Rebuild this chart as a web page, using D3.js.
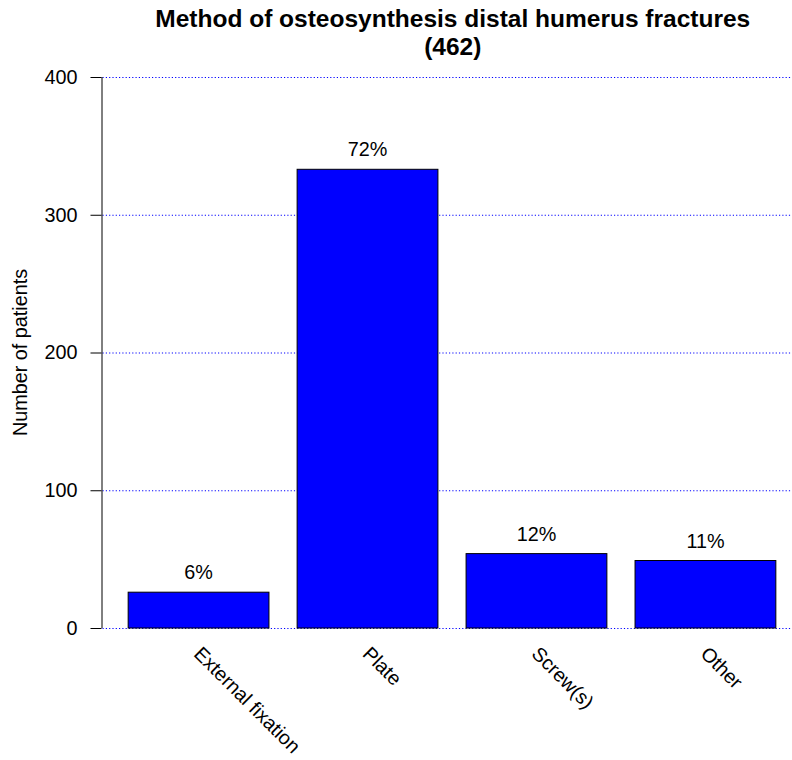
<!DOCTYPE html>
<html>
<head>
<meta charset="utf-8">
<script src="https://cdn.jsdelivr.net/npm/d3@7"></script>
<style>
  body { margin: 0; background: #fff; }
  svg { display: block; }
  text { font-family: "Liberation Sans", Arial, Helvetica, sans-serif; fill: #000; }
</style>
</head>
<body>
<svg id="chart" width="792" height="760"></svg>
<script>
const categories = ["External fixation", "Plate", "Screw(s)", "Other"];
const patients = [26, 333, 54, 49];
const percentLabels = ["6%", "72%", "12%", "11%"];
const yTicks = [0, 100, 200, 300, 400];
const titleLines = ["Method of osteosynthesis distal humerus fractures", "(462)"];
const yLabel = "Number of patients";

const svg = d3.select("#chart");
const W = 792, H = 760;
const plotLeft = 101.5, plotRight = 804;
const fs = "19.8px";

const y = d3.scaleLinear().domain([0, 400]).range([628, 77]);
const x = d3.scaleBand().domain(categories).range([100, 804])
  .paddingInner(1 / 6).paddingOuter(1 / 6);

// gridlines
svg.append("g").selectAll("line").data(yTicks).join("line")
  .attr("x1", plotLeft + 1).attr("x2", W)
  .attr("y1", d => y(d) + 0.5).attr("y2", d => y(d) + 0.5)
  .attr("stroke", "#0000ff").attr("stroke-width", 1)
  .attr("stroke-dasharray", "1.2,2.1");

// bars
svg.append("g").selectAll("rect").data(patients).join("rect")
  .attr("x", (d, i) => x(categories[i]))
  .attr("y", d => y(d))
  .attr("width", x.bandwidth())
  .attr("height", d => y(0) - y(d))
  .attr("fill", "#0000ff")
  .attr("stroke", "#000").attr("stroke-width", 1);

// percent labels
svg.append("g").selectAll("text").data(patients).join("text")
  .attr("x", (d, i) => x(categories[i]) + x.bandwidth() / 2)
  .attr("y", d => y(d) - 13)
  .attr("text-anchor", "middle")
  .style("font-size", fs)
  .text((d, i) => percentLabels[i]);

// y axis
const yAxis = d3.axisLeft(y).tickValues(yTicks).tickSize(11).tickPadding(13);
const gy = svg.append("g").attr("transform", `translate(${plotLeft},0)`).call(yAxis);
gy.select(".domain").attr("d", `M0.5,${y(0)}V${y(400)}`).attr("stroke", "#000");
gy.selectAll(".tick line").attr("stroke", "#000");
gy.selectAll(".tick text").style("font-size", fs)
  .style("font-family", "'Liberation Sans', Arial, sans-serif").attr("fill", "#000");

// x labels (rotated)
svg.append("g").selectAll("text").data(categories).join("text")
  .attr("transform", d => `translate(${x(d) + x.bandwidth() / 2 - 1},650) rotate(45)`)
  .attr("dy", "0.35em")
  .attr("text-anchor", "start")
  .style("font-size", fs)
  .text(d => d);

// y label
svg.append("text")
  .attr("transform", `translate(27,${(y(0) + y(400)) / 2}) rotate(-90)`)
  .attr("text-anchor", "middle")
  .style("font-size", fs)
  .text(yLabel);

// title
const cx = (plotLeft + plotRight) / 2;
svg.append("g").selectAll("text").data(titleLines).join("text")
  .attr("x", cx)
  .attr("y", (d, i) => 27 + i * 28)
  .attr("text-anchor", "middle")
  .style("font-size", "24.5px").style("font-weight", "bold")
  .text(d => d);
</script>
</body>
</html>
